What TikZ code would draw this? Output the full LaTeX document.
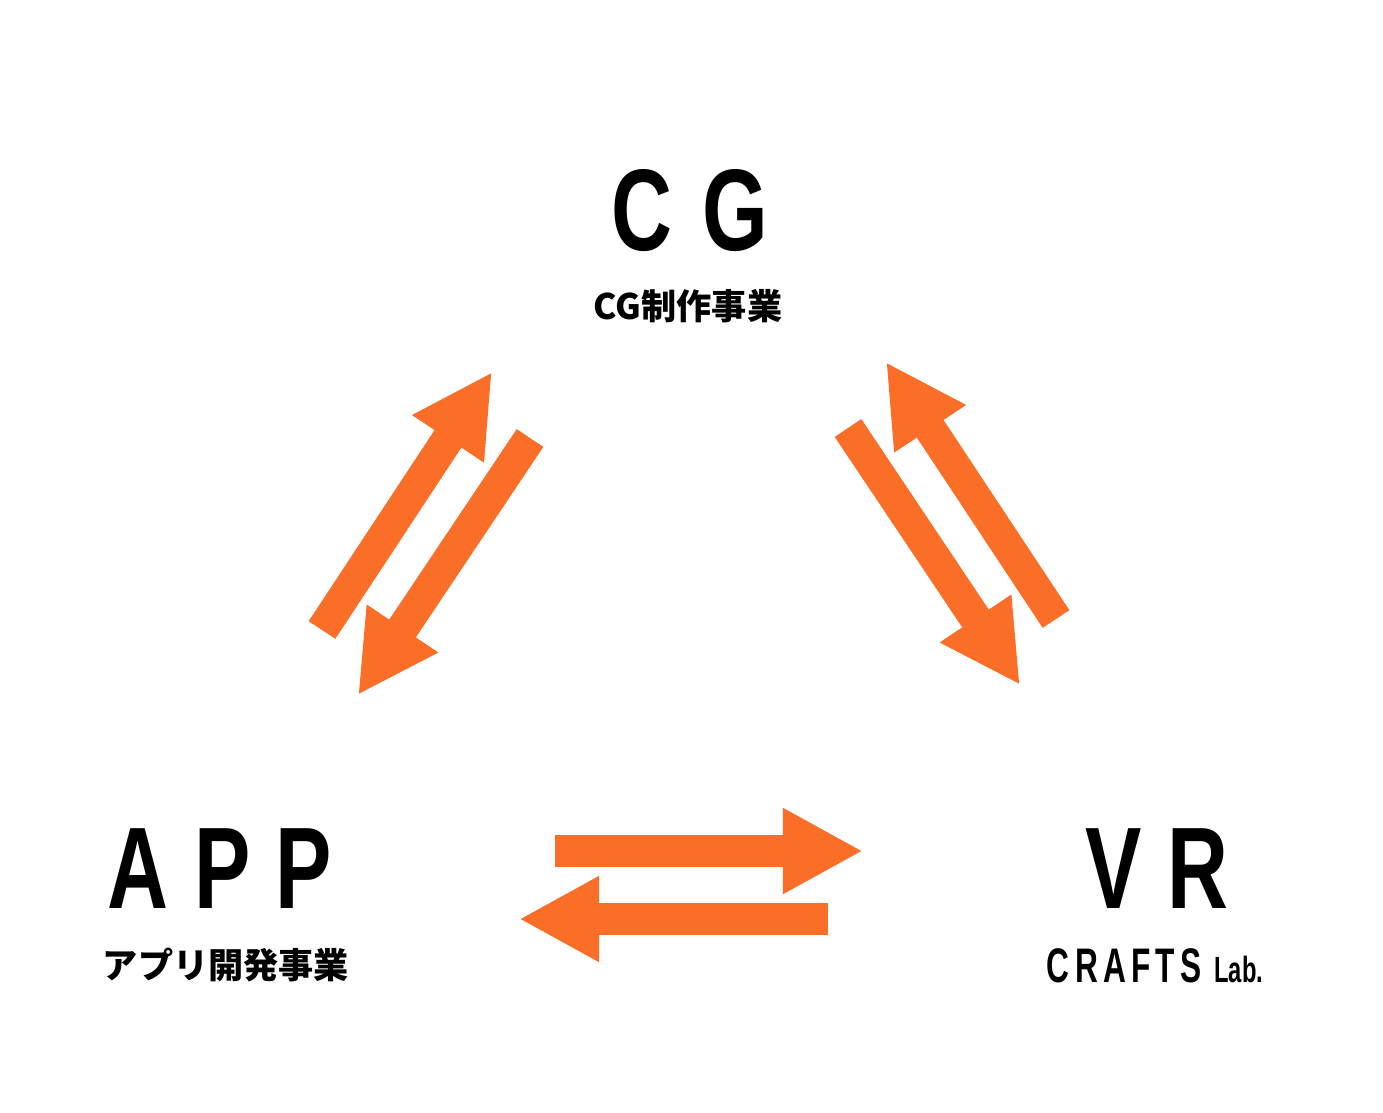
\documentclass[tikz,border=0pt]{standalone}
\usepackage{fontspec}
\setmainfont{Liberation Sans}
\newfontfamily\jpfont{Noto Sans CJK JP}
\usetikzlibrary{arrows.meta}
\definecolor{orangeArrow}{HTML}{FB6E27}
\tikzset{
  title/.style={font=\fontsize{30}{30}\bfseries\selectfont, inner sep=0pt},
  sub/.style={font=\jpfont\fontsize{10}{10}\bfseries\selectfont, inner sep=0pt},
  flow/.style={draw=orangeArrow, line width=0.32cm, line cap=butt,
    -{Triangle[width=0.8cm,length=0.8cm]}},
}
\begin{document}
\begin{tikzpicture}[x=0.01cm,y=-0.01cm]
  \useasboundingbox (0,0) rectangle (1383,1112);
  % labels
  \node[title] (cg) at (690,211) {\scalebox{0.8}[1.1]{C\hspace{0.35em}G}};
  \node[sub] (cgsub) at (688,306) {CG制作事業};
  \node[title] (app) at (220,869) {\scalebox{0.8}[1.1]{A\hspace{0.3em}P\hspace{0.3em}P}};
  \node[sub] (appsub) at (226,965) {アプリ開発事業};
  \node[title] (vr) at (1157,869) {\scalebox{0.8}[1.1]{V\hspace{0.3em}R}};
  \node[font=\fontsize{12}{12}\bfseries\selectfont, inner sep=0pt] (crafts) at (1155,966)
    {\scalebox{0.75}[1.15]{C\,R\,A\,F\,T\,S\hspace{0.4em}{\small Lab.}}};
  % arrow ends
  \coordinate (a1s) at (322,630); \coordinate (a1t) at (492,372);
  \coordinate (a2s) at (530,438); \coordinate (a2t) at (358,695);
  \coordinate (b1s) at (1056,619); \coordinate (b1t) at (886,362);
  \coordinate (b2s) at (848,428); \coordinate (b2t) at (1020,685);
  \coordinate (c1s) at (555,851); \coordinate (c1t) at (863,851);
  \coordinate (c2s) at (828,919); \coordinate (c2t) at (519,919);
  % arrows
  \draw[flow] (a1s) -- (a1t);
  \draw[flow] (a2s) -- (a2t);
  \draw[flow] (b1s) -- (b1t);
  \draw[flow] (b2s) -- (b2t);
  \draw[flow] (c1s) -- (c1t);
  \draw[flow] (c2s) -- (c2t);
\end{tikzpicture}
\end{document}
